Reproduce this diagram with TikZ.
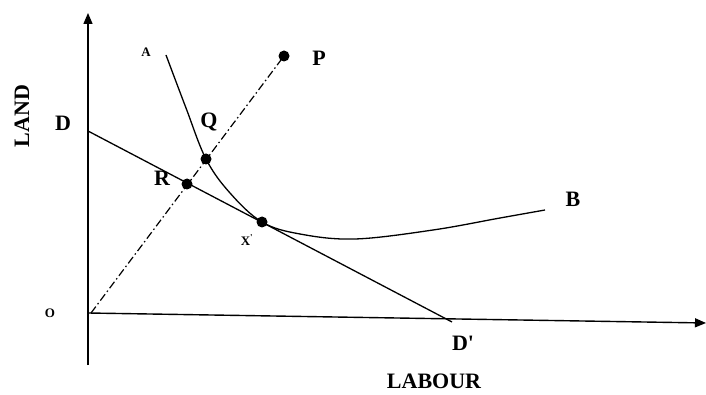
\documentclass[tikz,border=0pt]{standalone}
\usepackage{fontspec}
\setmainfont{Liberation Serif}
\usetikzlibrary{arrows.meta}
\begin{document}
\begin{tikzpicture}[x=1pt,y=-1pt,
  lbl/.style={font=\bfseries\fontsize{22}{24}\selectfont, inner sep=0pt},
  smalllbl/.style={font=\bfseries\fontsize{13}{14}\selectfont, inner sep=0pt},
  dotpt/.style={circle, fill=black, inner sep=0pt, minimum size=11pt},
  axis/.style={line width=1.4pt, -{Triangle[width=9pt,length=11pt]}},
  ln/.style={line width=1.3pt},
  dashdotline/.style={line width=1.2pt, dash pattern=on 8pt off 3pt on 1.5pt off 3pt}]
\useasboundingbox (0,0) rectangle (706,395);
% axes
\coordinate (ybot) at (88,365);
\coordinate (ytop) at (88,13);
\coordinate (xstart) at (88,313);
\coordinate (xend) at (706,323);
\draw[axis] (ybot) -- (ytop);
\draw[axis] (xstart) -- (xend);
\coordinate (o) at (91,313);
% budget line
\coordinate (d) at (88,131);
\coordinate (dp) at (452,322);
\draw[ln] (d) -- (dp);
% points
\node[dotpt] (p) at (284,56) {};
\node[dotpt] (q) at (206,159) {};
\node[dotpt] (r) at (187,184) {};
\node[dotpt] (x) at (262,222) {};
% ray
\draw[dashdotline] (o) -- (p.center);
% isoquant
\draw[ln] plot[smooth, tension=0.6] coordinates {(166,55) (186,108) (206,159) (230,193) (262,222) (300,234) (355,239) (433,230) (500,218) (545,210)};
% labels
\node[lbl] (lD) at (63,123) {D};
\node[lbl] (lDp) at (463,343) {D\textquotesingle};
\node[lbl] (lP) at (319,58) {P};
\node[lbl] (lQ) at (209,122) {Q};
\node[lbl] (lR) at (162,178) {R};
\node[lbl] (lB) at (573,199) {B};
\node[smalllbl] (lA) at (146,52) {A};
\node[smalllbl] (lO) at (50,313) {O};
\node[smalllbl] (lX) at (247,240) {X\textsuperscript{\textquotesingle}};
\node[lbl, rotate=90] (land) at (22,116) {LAND};
\node[lbl] (labour) at (434,381) {LABOUR};
\end{tikzpicture}
\end{document}
